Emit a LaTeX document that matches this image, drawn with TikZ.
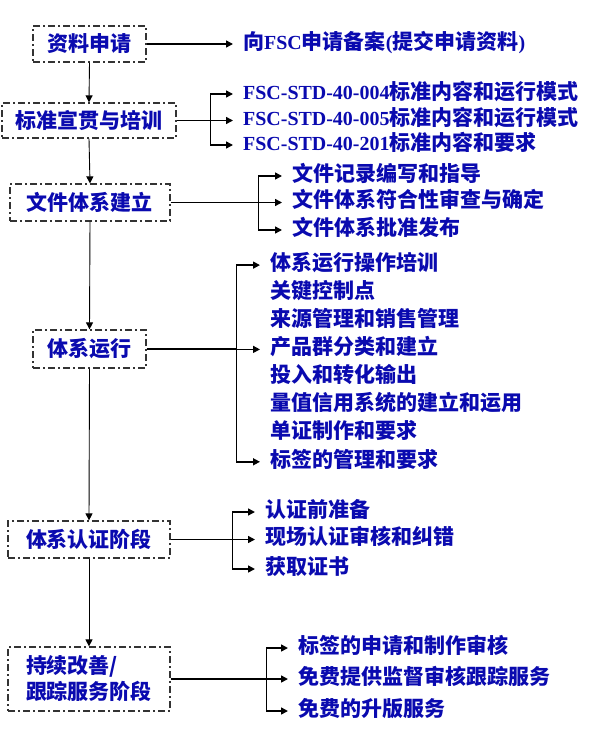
\documentclass[tikz,border=0pt]{standalone}
\usepackage{fontspec}
\setmainfont{Noto Sans CJK SC}
\newfontfamily\latin{Liberation Serif}[Scale=0.95]
\usetikzlibrary{arrows.meta}
\definecolor{textblue}{RGB}{10,10,175}
\begin{document}
\begin{tikzpicture}[x=1pt,y=-1pt,
    stage/.style={draw=black!80, line width=1.2pt, dash pattern=on 7pt off 3pt on 2pt off 3pt,
        text=textblue, font=\bfseries\fontsize{21}{26}\selectfont, inner sep=0pt},
    item/.style={anchor=west, text=textblue, font=\bfseries\fontsize{21}{26}\selectfont,
        inner xsep=10pt, inner ysep=0pt, text height=1.05em, text depth=0em},
    flow/.style={-{Triangle[length=7pt,width=7pt]}, line width=0.9pt},
    link/.style={-{Triangle[length=7pt,width=7pt]}, line width=1.5pt}]
    \useasboundingbox (0,0) rectangle (597,729);
    % stages
    \node[stage, minimum width=113pt, minimum height=36pt] (b1) at (89.5,44) {资料申请};
    \node[stage, minimum width=174pt, minimum height=35pt] (b2) at (89,120.5) {标准宣贯与培训};
    \node[stage, minimum width=160pt, minimum height=37pt] (b3) at (90,202.5) {文件体系建立};
    \node[stage, minimum width=113pt, minimum height=38pt] (b4) at (89.5,349) {体系运行};
    \node[stage, minimum width=162pt, minimum height=37pt] (b5) at (89,539.5) {体系认证阶段};
    \node[stage, minimum width=162pt, minimum height=64pt, align=left] (b6) at (89,679) {持续改善/\\跟踪服务阶段};

    % main flow
    \draw[flow] (b1.south) -- (b2.north);
    \draw[flow] (b2.south) -- (b3.north);
    \draw[flow] (b3.south) -- (b4.north);
    \draw[flow] (b4.south) -- (b5.north);
    \draw[flow] (b5.south) -- (b6.north);

    % application
    \node[item] (t1) at (233,44) {向{\latin FSC}申请备案{\latin (}提交申请资料{\latin )}};
    \draw[link] (b1.east) -- (t1.west);

    % standards
    \node[item] (t21) at (233,94) {{\latin FSC-STD-40-004}标准内容和运行模式};
    \node[item] (t22) at (233,120.5) {{\latin FSC-STD-40-005}标准内容和运行模式};
    \node[item] (t23) at (233,145) {{\latin FSC-STD-40-201}标准内容和要求};
    \draw[line width=1.5pt] (b2.east) -- ++(34,0) coordinate (j2);
    \draw[link] (j2) |- (t21.west);
    \draw[link] (j2) -- (t22.west);
    \draw[link] (j2) |- (t23.west);

    % documents
    \node[item] (t31) at (282,176) {文件记录编写和指导};
    \node[item] (t32) at (282,202.5) {文件体系符合性审查与确定};
    \node[item] (t33) at (282,230) {文件体系批准发布};
    \draw[line width=1.5pt] (b3.east) -- ++(88,0) coordinate (j3);
    \draw[link] (j3) |- (t31.west);
    \draw[link] (j3) -- (t32.west);
    \draw[link] (j3) |- (t33.west);

    % operation
    \foreach \txt [count=\i] in {体系运行操作培训, 关键控制点, 来源管理和销售管理, 产品群分类和建立,
        投入和转化输出, 量值信用系统的建立和运用, 单证制作和要求, 标签的管理和要求}
        \node[item] (t4\i) at (260,237+28.1*\i) {\txt};
    \draw[line width=1.5pt] (b4.east) -- ++(90,0) coordinate (j4);
    \draw[link] (j4) |- (t41.west);
    \draw[link] (j4) |- (t44.west);
    \draw[link] (j4) |- (t48.west);

    % certification
    \node[item] (t51) at (255,512) {认证前准备};
    \node[item] (t52) at (255,539.5) {现场认证审核和纠错};
    \node[item] (t53) at (255,569) {获取证书};
    \draw[line width=1.5pt] (b5.east) -- ++(62,0) coordinate (j5);
    \draw[link] (j5) |- (t51.west);
    \draw[link] (j5) -- (t52.west);
    \draw[link] (j5) |- (t53.west);

    % follow-up
    \node[item] (t61) at (288,648) {标签的申请和制作审核};
    \node[item] (t62) at (288,679) {免费提供监督审核跟踪服务};
    \node[item] (t63) at (288,711) {免费的升版服务};
    \draw[line width=1.5pt] (b6.east) -- ++(96,0) coordinate (j6);
    \draw[link] (j6) |- (t61.west);
    \draw[link] (j6) -- (t62.west);
    \draw[link] (j6) |- (t63.west);
\end{tikzpicture}
\end{document}
